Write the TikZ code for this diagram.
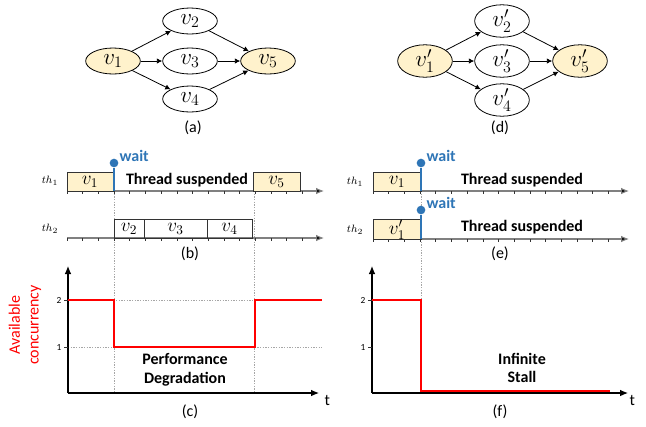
\documentclass[tikz,border=0pt]{standalone}
\usepackage{fontspec}
\setmainfont{Carlito}
\usepackage{tikz}
\usetikzlibrary{arrows.meta,positioning,shapes.geometric}
\definecolor{TaskYellow}{HTML}{FFF2CC}
\definecolor{WaitBlue}{HTML}{2E75B6}
\definecolor{ConcRed}{HTML}{FF0000}
\definecolor{AxisGray}{HTML}{808080}
\definecolor{GuideGray}{HTML}{A6A6A6}
\tikzset{
  vtx/.style={
    ellipse,
    draw=black,
    line width=.6pt,
    minimum width=41pt,
    minimum height=19.5pt,
    inner sep=0pt,
    font=\LARGE
  },
  endvtx/.style={vtx,fill=TaskYellow},
  dep/.style={-{Latex[length=4pt,width=4pt]},line width=.6pt},
  taskbox/.style={
    draw=black!80,
    line width=.6pt,
    minimum height=14.25pt,
    inner sep=0pt,
    outer sep=0pt,
    anchor=south west,
    font=\Large
  },
  donebox/.style={taskbox,fill=TaskYellow},
  timeaxis/.style={draw=AxisGray,line width=.8pt,-{Latex[length=6pt,width=5pt,fill=black]}},
  tickmark/.style={draw=black!80,line width=.5pt},
  thlabel/.style={font=\footnotesize,anchor=center},
  waitdot/.style={circle,fill=WaitBlue,minimum size=6.5pt,inner sep=0pt},
  waitline/.style={draw=WaitBlue,line width=2pt},
  waitlabel/.style={font=\large\bfseries,text=WaitBlue,anchor=west,inner sep=1pt},
  status/.style={font=\large\bfseries,align=center},
  caption/.style={font=\large},
  guide/.style={draw=GuideGray,line width=.5pt,dash pattern=on 1pt off 1pt},
  plotaxis/.style={draw=black,line width=.8pt,-{Latex[length=6pt,width=5pt]}},
  level/.style={draw=ConcRed,line width=2.2pt},
  levellabel/.style={font=\scriptsize,anchor=east,inner sep=1pt}
}

\begin{document}
\begin{tikzpicture}[x=.75pt,y=-.75pt]
  \useasboundingbox (0,0) rectangle (646,426);

  % (a) task graph
  \node[endvtx] (a1) at (113,61) {$v_1$};
  \node[vtx] (a2) at (190,21) {$v_2$};
  \node[vtx] (a3) at (190,61) {$v_3$};
  \node[vtx] (a4) at (190,99) {$v_4$};
  \node[endvtx] (a5) at (268,61) {$v_5$};
  \foreach \s/\t in {a1/a2,a1/a3,a1/a4,a2/a5,a3/a5,a4/a5}
    \draw[dep] (\s) -- (\t);
  \node[caption] (capa) at (193,128) {(a)};

  % (d) task graph
  \node[endvtx] (d1) at (425,61) {$v'_1$};
  \node[vtx] (d2) at (502,21) {$v'_2$};
  \node[vtx] (d3) at (502,61) {$v'_3$};
  \node[vtx] (d4) at (502,100) {$v'_4$};
  \node[endvtx] (d5) at (580,61) {$v'_5$};
  \foreach \s/\t in {d1/d2,d1/d3,d1/d4,d2/d5,d3/d5,d4/d5}
    \draw[dep] (\s) -- (\t);
  \node[caption] (capd) at (500,128) {(d)};

  % guides behind the timelines
  \draw[guide] (114,191) -- (114,393);
  \draw[guide] (254,191) -- (254,393);
  \draw[guide] (421,191) -- (421,300);

  % (b) timelines
  \node[thlabel] (bth1) at (50,181) {$th_1$};
  \node[thlabel] (bth2) at (50,229) {$th_2$};
  \coordinate (b1s) at (67,191);
  \coordinate (b1e) at (324,191);
  \coordinate (b2s) at (67,238);
  \coordinate (b2e) at (324,238);
  \draw[timeaxis] (b1s) -- (b1e);
  \draw[timeaxis] (b2s) -- (b2e);
  \foreach \i in {0,...,15} {
    \draw[tickmark] (67+\i*15.7,191) -- ++(0,3);
    \draw[tickmark] (67+\i*15.7,238) -- ++(0,3);
  }
  \node[donebox,minimum width=34.5pt] (bv1) at (b1s) {$v_1$};
  \node[donebox,minimum width=35.25pt] (bv5) at (253,191) {$v_5$};
  \node[taskbox,minimum width=22.5pt] (bv2) at (114,238) {$v_2$};
  \node[taskbox,minimum width=47.25pt,right=0pt of bv2] (bv3) {$v_3$};
  \node[taskbox,minimum width=33.75pt,right=0pt of bv3] (bv4) {$v_4$};
  \node[waitdot] (bw) at (114,163) {};
  \coordinate (bwfoot) at (114,191);
  \draw[waitline] (bwfoot) -- (bw);
  \node[waitlabel] (bwt) at (118,156) {wait};
  \node[status] (bsus) at (187,180) {Thread suspended};
  \node[caption] (capb) at (190,254) {(b)};

  % (e) timelines
  \node[thlabel] (eth1) at (355,182) {$th_1$};
  \node[thlabel] (eth2) at (355,230) {$th_2$};
  \coordinate (e1s) at (373,191);
  \coordinate (e1e) at (629,191);
  \coordinate (e2s) at (373,239);
  \coordinate (e2e) at (629,239);
  \draw[timeaxis] (e1s) -- (e1e);
  \draw[timeaxis] (e2s) -- (e2e);
  \foreach \i in {0,...,15} {
    \draw[tickmark] (373+\i*15.7,191) -- ++(0,3);
    \draw[tickmark] (373+\i*15.7,239) -- ++(0,3);
  }
  \node[donebox,minimum width=36pt] (ev1) at (e1s) {$v_1$};
  \node[donebox,minimum width=36pt] (ev1p) at (e2s) {$v'_1$};
  \node[waitdot] (ew1) at (421,163) {};
  \node[waitdot] (ew2) at (421,210) {};
  \coordinate (ew1foot) at (421,191);
  \coordinate (ew2foot) at (421,239);
  \draw[waitline] (ew1foot) -- (ew1);
  \draw[waitline] (ew2foot) -- (ew2);
  \node[waitlabel] (ew1t) at (425,156) {wait};
  \node[waitlabel] (ew2t) at (425,203) {wait};
  \node[status] (esus1) at (522,180) {Thread suspended};
  \node[status] (esus2) at (522,227) {Thread suspended};
  \node[caption] (cape) at (500,254) {(e)};

  % (c) available concurrency
  \coordinate (co) at (68,393);
  \coordinate (cy) at (68,266);
  \coordinate (cx) at (319,393);
  \draw[guide] (68,300) -- (322,300);
  \draw[guide] (68,347) -- (322,347);
  \draw[plotaxis] (co) -- (cy);
  \draw[plotaxis] (co) -- (cx);
  \draw[tickmark] (64,300) -- (68,300);
  \draw[tickmark] (64,347) -- (68,347);
  \node[levellabel] (c2) at (63,300) {2};
  \node[levellabel] (c1) at (63,347) {1};
  \draw[level] (68,300) -- (114,300) -- (114,347) -- (255,347) -- (255,300) -- (322,300);
  \node[font=\large,anchor=west,inner sep=1pt] (ct) at (323,400) {t};
  \node[rotate=90,text=ConcRed,align=center,font=\large,inner sep=0pt] (cylab) at (25,325) {Available\\concurrency};
  \node[status] (cdeg) at (185,370) {Performance\\Degradation};
  \node[caption] (capc) at (190,412) {(c)};

  % (f) available concurrency
  \coordinate (fo) at (372,393);
  \coordinate (fy) at (372,266);
  \coordinate (fx) at (628,393);
  \draw[plotaxis] (fo) -- (fy);
  \draw[plotaxis] (fo) -- (fx);
  \draw[tickmark] (368,300) -- (372,300);
  \draw[tickmark] (368,347) -- (372,347);
  \node[levellabel] (f2) at (367,300) {2};
  \node[levellabel] (f1) at (367,347) {1};
  \draw[level] (372,300) -- (421,300) -- (421,391) -- (610,391);
  \node[font=\large,anchor=west,inner sep=1pt] (ft) at (628,400) {t};
  \node[status] (fstall) at (522,368) {Infinite\\Stall};
  \node[caption] (capf) at (500,412) {(f)};
\end{tikzpicture}
\end{document}
